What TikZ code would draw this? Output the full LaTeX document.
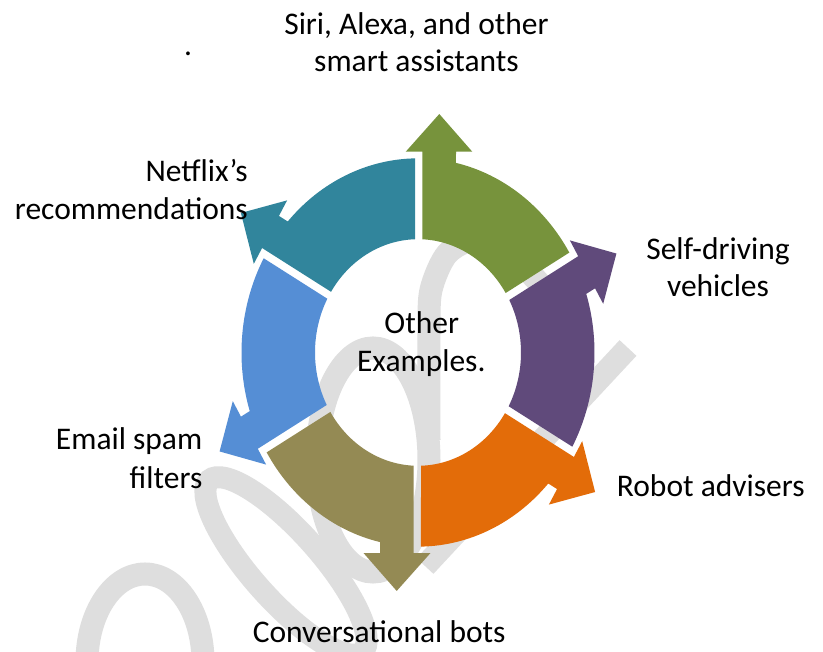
\documentclass[tikz,border=0pt]{standalone}
\usepackage{fontspec}
\setmainfont{Carlito}
\definecolor{cgreen}{HTML}{77933C}
\definecolor{cteal}{HTML}{31859C}
\definecolor{cblue}{HTML}{558ED5}
\definecolor{colive}{HTML}{948A54}
\definecolor{corange}{HTML}{E36C09}
\definecolor{cpurple}{HTML}{604A7B}
\definecolor{wmgray}{HTML}{DEDEDE}
\begin{document}
\begin{tikzpicture}[x=1pt,y=1pt,
  lbl/.style={inner sep=0pt, font=\fontsize{31.5}{37.8}\selectfont},
  wm/.style={draw=wmgray, line width=23pt}]
\useasboundingbox (0,0) rectangle (823,652);
\clip (0,0) rectangle (823,652);
\fill[white] (0,0) rectangle (823,652);
% watermark strokes
\draw[wm] (145,-10) ellipse [x radius=58pt, y radius=88pt];
\draw[wm, line width=22pt, rotate around={-48.3:(286,86)}] (286,86) ellipse [x radius=115pt, y radius=34pt];
\draw[wm] (373,192) ellipse [x radius=56pt, y radius=112pt];
\draw[wm] plot[smooth] coordinates {(429,212) (429,319) (431,362) (447,398) (475,412) (510,398) (540,368)};
\draw[wm, line cap=butt] (628,304) -- (425,86);
% segments
\begin{scope}[shift={(418,299.5)}, yscale=1.1]
\foreach \ang/\col in {0/cgreen, 60/cteal, 120/cblue, 180/colive, 240/corange, 300/cpurple}{
  \fill[\col, rotate=\ang] (31.67:103) -- (30.97:176.5)
    arc[start angle=30.97, end angle=77.57, radius=176.5pt]
    -- (38,182.5) -- (54.3,182.5) -- (21.3,216.8) -- (-12.3,182.5) -- (4.3,182.5)
    -- (87.6:103) arc[start angle=87.6, end angle=31.67, radius=103pt] -- cycle;
}
\end{scope}
% labels
\node[lbl, anchor=base] (siri1) at (416.5,617.7) {Siri, Alexa, and other};
\node[lbl, anchor=base] (siri2) at (416.5,580.3) {smart assistants};
\node[lbl, anchor=base east] (net1) at (248,470.2) {Netflix’s};
\node[lbl, anchor=base east] (net2) at (248,432.7) {recommendations};
\node[lbl, anchor=base] (self1) at (718,392) {Self-driving};
\node[lbl, anchor=base] (self2) at (718,355.3) {vehicles};
\node[lbl, anchor=base west] (robot) at (616.7,155) {Robot advisers};
\node[lbl, anchor=base, text depth=0pt] (conv) at (379.2,9) {Conversational bots};
\node[lbl, anchor=base east] (email1) at (202.5,202) {Email spam};
\node[lbl, anchor=base east] (email2) at (202.5,163.7) {filters};
\node[lbl, anchor=base] (oth1) at (421.8,318.7) {Other};
\node[lbl, anchor=base] (oth2) at (421.3,280.3) {Examples.};
\node[lbl, anchor=base] (dot) at (188,596) {.};
\end{tikzpicture}
\end{document}
